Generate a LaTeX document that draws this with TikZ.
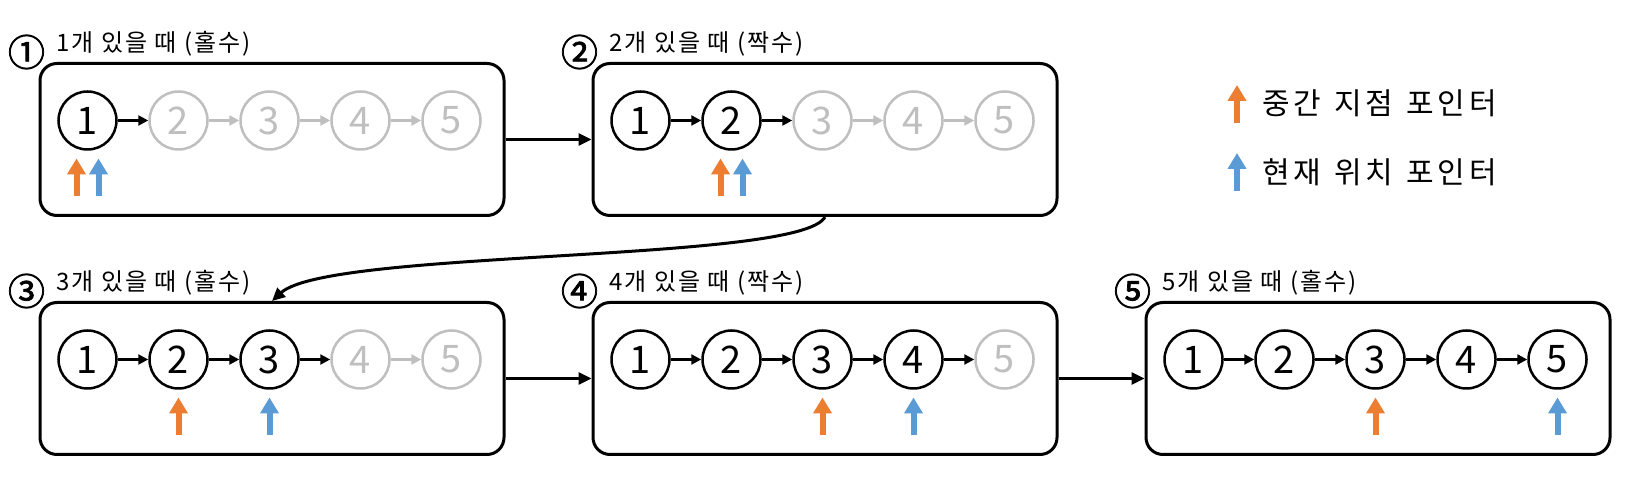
\documentclass[tikz,border=0pt]{standalone}
\usepackage{fontspec}
\setmainfont{Noto Sans CJK KR}
\newfontfamily\numfont[FakeBold=2]{Noto Sans CJK KR}
\newfontfamily\ttlfont[LetterSpace=8]{Noto Sans CJK KR}
\newfontfamily\lgdfont[LetterSpace=12,WordSpace=1.3]{Noto Sans CJK KR}
\usetikzlibrary{positioning,arrows.meta,calc}
\definecolor{ptrorange}{HTML}{ED7D31}
\definecolor{ptrblue}{HTML}{5B9BD5}
\definecolor{offgray}{HTML}{BFBFBF}

\begin{document}
\begin{tikzpicture}[
  x=1pt, y=1pt, node distance=30.5pt,
  stage/.style={draw, line width=3pt, rounded corners=17pt, minimum width=464pt, minimum height=152pt},
  nd/.style={circle, line width=2.5pt, minimum size=58pt, inner sep=0pt, font=\fontsize{38}{38}\selectfont},
  lnk/.style={line width=2.3pt, -{Triangle[length=10pt,width=10pt]}},
  big/.style={line width=3pt, -{Triangle[length=13pt,width=12pt]}},
  ttl/.style={inner sep=0pt, anchor=west, font=\fontsize{24}{24}\ttlfont},
  num/.style={inner sep=0pt, font=\fontsize{37}{37}\numfont},
  lgd/.style={inner sep=0pt, anchor=west, font=\fontsize{30}{30}\lgdfont},
  optr/.style={draw=ptrorange, line width=6pt, -{Triangle[width=18pt,length=16pt]}},
  bptr/.style={draw=ptrblue, line width=6pt, -{Triangle[width=18pt,length=16pt]}},
]
\fill[white] (0,0) rectangle (1637,492);
\useasboundingbox (0,0) rectangle (1637,492);

% stages
\node[stage] (s1) at (272,352.5) {};
\node[stage, right=86pt of s1] (s2) {};
\node[stage, below=84pt of s1] (s3) {};
\node[stage, right=86pt of s3] (s4) {};
\node[stage, right=86pt of s4] (s5) {};

\node[num] (n1) at ([xshift=-12pt,yshift=10pt]s1.north west) {①};
\node[num] (n2) at ([xshift=-12pt,yshift=10pt]s2.north west) {②};
\node[num] (n3) at ([xshift=-12pt,yshift=10pt]s3.north west) {③};
\node[num] (n4) at ([xshift=-12pt,yshift=10pt]s4.north west) {④};
\node[num] (n5) at ([xshift=-12pt,yshift=10pt]s5.north west) {⑤};
\node[ttl] (t1) at ([xshift=18pt,yshift=18pt]s1.north west) {1개 있을 때 (홀수)};
\node[ttl] (t2) at ([xshift=18pt,yshift=18pt]s2.north west) {2개 있을 때 (짝수)};
\node[ttl] (t3) at ([xshift=18pt,yshift=18pt]s3.north west) {3개 있을 때 (홀수)};
\node[ttl] (t4) at ([xshift=18pt,yshift=18pt]s4.north west) {4개 있을 때 (짝수)};
\node[ttl] (t5) at ([xshift=18pt,yshift=18pt]s5.north west) {5개 있을 때 (홀수)};

% lists: first \k nodes are filled in
\foreach \k in {1,...,5} {
  \node[nd, draw=black] (c\k1) at ($(s\k.west)+(49,19)$) {1};
  \foreach \j [count=\i] in {2,...,5} {
    \ifnum\j>\k \def\cl{offgray}\else\def\cl{black}\fi
    \ifnum\i>\k \def\al{offgray}\else\def\al{black}\fi
    \node[nd, draw=\cl, text=\cl, right=of c\k\i] (c\k\j) {\j};
    \draw[lnk, color=\al] (c\k\i) -- (c\k\j);
  }
}

\draw[big] (s1) -- (s2);
\draw[big] (s2.south) .. controls +(-25,-46) and +(57,52) .. (s3.north);
\draw[big] (s3) -- (s4);
\draw[big] (s4) -- (s5);

% pointers
\draw[optr] ($(c11)+(-11,-76)$) -- ++(0,38);
\draw[bptr] ($(c11)+(11,-76)$) -- ++(0,38);
\draw[optr] ($(c22)+(-11,-76)$) -- ++(0,38);
\draw[bptr] ($(c22)+(11,-76)$) -- ++(0,38);
\draw[optr] ($(c32)+(0,-76)$) -- ++(0,38);
\draw[bptr] ($(c33)+(0,-76)$) -- ++(0,38);
\draw[optr] ($(c43)+(0,-76)$) -- ++(0,38);
\draw[bptr] ($(c44)+(0,-76)$) -- ++(0,38);
\draw[optr] ($(c53)+(0,-76)$) -- ++(0,38);
\draw[bptr] ($(c55)+(0,-76)$) -- ++(0,38);

% legend
\node[lgd] (lg1) at (1262,389) {중간 지점 포인터};
\node[lgd] (lg2) at (1262,320) {현재 위치 포인터};
\draw[optr] ($(lg1.west)+(-25,-20)$) -- ++(0,38);
\draw[bptr] ($(lg2.west)+(-25,-19)$) -- ++(0,38);
\end{tikzpicture}
\end{document}
